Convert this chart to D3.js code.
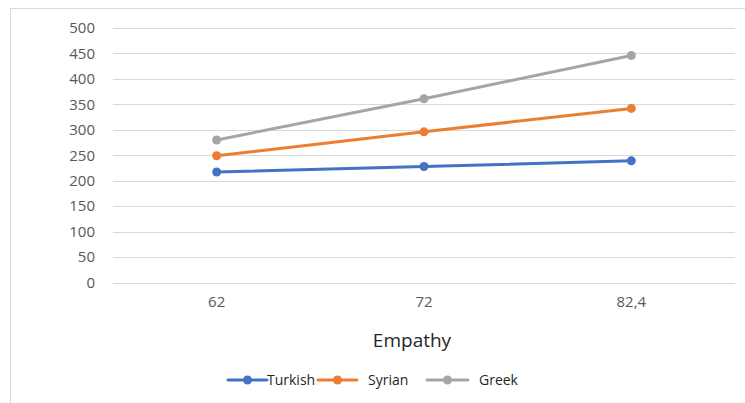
<!DOCTYPE html>
<html>
<head>
<meta charset="utf-8">
<script src="https://cdn.jsdelivr.net/npm/d3@7"></script>
<style>
  html, body { margin: 0; padding: 0; background: #fff; }
  svg { display: block; }
</style>
</head>
<body>
<svg id="chart" width="745" height="403"></svg>
<script>
// Empathy score categories and score per group
const categories = ["62", "72", "82,4"];
const turkish = [217, 228, 239];
const syrian = [249, 296, 342];
const greek = [280, 361, 446];
const seriesNames = ["Turkish", "Syrian", "Greek"];
const seriesColors = ["#4472C4", "#ED7D31", "#A5A5A5"];
const yTicks = [0, 50, 100, 150, 200, 250, 300, 350, 400, 450, 500];
const xTitle = "Empathy";

const series = [turkish, syrian, greek].map((values, i) => ({
  name: seriesNames[i],
  color: seriesColors[i],
  values
}));

const svg = d3.select("#chart");
const font = "'Open Sans', 'Liberation Sans', sans-serif";

// chart frame (only its top and left edges fall inside the view)
svg.append("rect")
  .attr("x", 10.5).attr("y", 8.5)
  .attr("width", 760).attr("height", 420)
  .attr("fill", "none")
  .attr("stroke", "#d9d9d9")
  .attr("stroke-width", 1);

const plotLeft = 113, plotRight = 735, plotTop = 28, plotBottom = 282.5;

const x = d3.scaleBand().domain(categories).range([plotLeft, plotRight]);
const y = d3.scaleLinear().domain([0, 500]).range([plotBottom, plotTop]);

// horizontal gridlines
svg.append("g")
  .selectAll("line")
  .data(yTicks)
  .join("line")
  .attr("x1", plotLeft).attr("x2", plotRight)
  .attr("y1", d => Math.round(y(d)) + 0.5)
  .attr("y2", d => Math.round(y(d)) + 0.5)
  .attr("stroke", "#d9d9d9")
  .attr("stroke-width", 1);

// y axis labels
const yAxis = d3.axisLeft(y).tickValues(yTicks).tickSize(0).tickPadding(0);
const gy = svg.append("g").attr("transform", "translate(95,0)").call(yAxis);
gy.select(".domain").remove();
gy.selectAll("text")
  .attr("font-family", font)
  .attr("font-size", 15)
  .attr("fill", "#595959");

// x axis labels
const xAxis = d3.axisBottom(x).tickSize(0).tickPadding(0);
const gx = svg.append("g").attr("transform", "translate(0,296)").call(xAxis);
gx.select(".domain").remove();
gx.selectAll("text")
  .attr("font-family", font)
  .attr("font-size", 15)
  .attr("fill", "#595959");

// axis title
svg.append("text")
  .attr("x", 412).attr("y", 347)
  .attr("text-anchor", "middle")
  .attr("font-family", font)
  .attr("font-size", 19)
  .attr("fill", "#262626")
  .text(xTitle);

// series lines and markers
const cx = i => x(categories[i]) + x.bandwidth() / 2;
const line = d3.line()
  .x((d, i) => cx(i))
  .y(d => y(d));

const gs = svg.append("g")
  .selectAll("g")
  .data(series)
  .join("g");

gs.append("path")
  .attr("d", d => line(d.values))
  .attr("fill", "none")
  .attr("stroke", d => d.color)
  .attr("stroke-width", 3)
  .attr("stroke-linecap", "round")
  .attr("stroke-linejoin", "round");

gs.selectAll("circle")
  .data(d => d.values.map((v, i) => ({ v, i, color: d.color })))
  .join("circle")
  .attr("cx", d => cx(d.i))
  .attr("cy", d => y(d.v))
  .attr("r", 4.5)
  .attr("fill", d => d.color);

// legend
const legendItems = [
  { x1: 228, x2: 267, tx: 267 },
  { x1: 318, x2: 357, tx: 368 },
  { x1: 427, x2: 468, tx: 479 }
];
const ly = 380;
const lg = svg.append("g")
  .selectAll("g")
  .data(series)
  .join("g");

lg.append("line")
  .attr("x1", (d, i) => legendItems[i].x1)
  .attr("x2", (d, i) => legendItems[i].x2)
  .attr("y1", ly).attr("y2", ly)
  .attr("stroke", d => d.color)
  .attr("stroke-width", 3)
  .attr("stroke-linecap", "round");

lg.append("circle")
  .attr("cx", (d, i) => (legendItems[i].x1 + legendItems[i].x2) / 2)
  .attr("cy", ly)
  .attr("r", 4.5)
  .attr("fill", d => d.color);

lg.append("text")
  .attr("x", (d, i) => legendItems[i].tx)
  .attr("y", ly)
  .attr("dy", "0.35em")
  .attr("font-family", font)
  .attr("font-size", 14)
  .attr("fill", "#262626")
  .text(d => d.name);
</script>
</body>
</html>
